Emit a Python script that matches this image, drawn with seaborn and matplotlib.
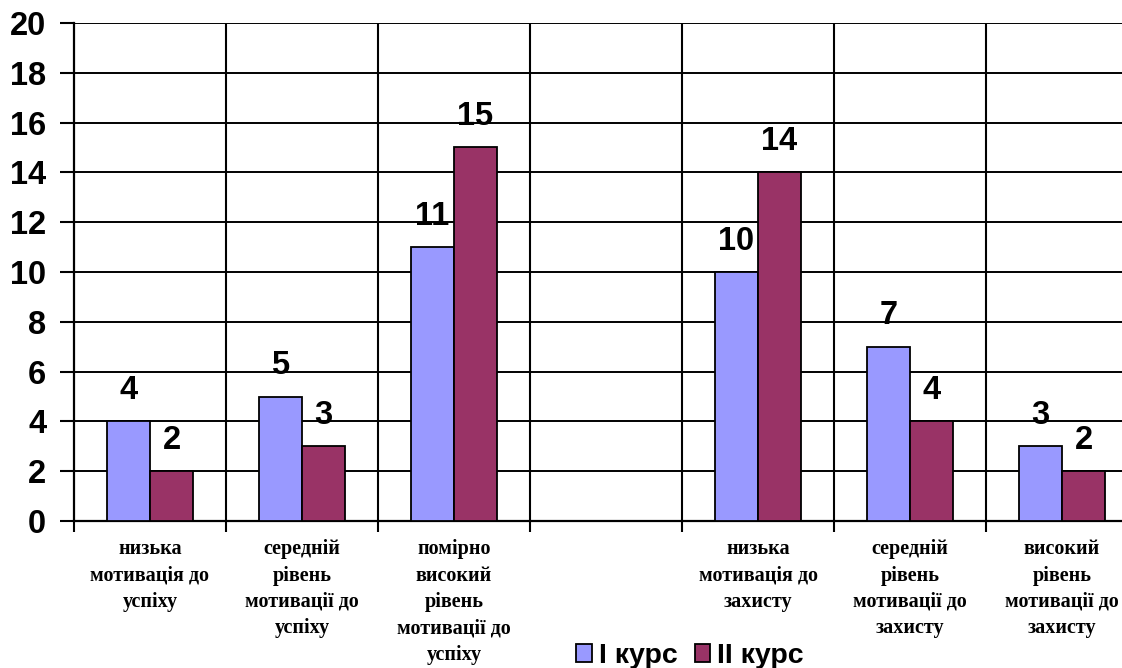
import numpy as np
import pandas as pd
import seaborn as sns
import matplotlib.pyplot as plt
from matplotlib.patches import Patch

categories = [
    "низька\nмотивація до\nуспіху",
    "середній\nрівень\nмотивації до\nуспіху",
    "помірно\nвисокий\nрівень\nмотивації до\nуспіху",
    " ",
    "низька\nмотивація до\nзахисту",
    "середній\nрівень\nмотивації до\nзахисту",
    "високий\nрівень\nмотивації до\nзахисту",
]
series = ["I курс", "II курс"]
course1 = [4, 5, 11, np.nan, 10, 7, 3]
course2 = [2, 3, 15, np.nan, 14, 4, 2]
colors = ["#9999FF", "#993366"]
y_ticks = list(range(0, 21, 2))

sns.set_style("white")
plt.rcParams["font.family"] = ["Liberation Sans", "DejaVu Sans"]
plt.rcParams["text.color"] = "black"
plt.rcParams["xtick.color"] = "black"
plt.rcParams["ytick.color"] = "black"

df = pd.DataFrame({
    "cat": categories * 2,
    "course": [series[0]] * len(categories) + [series[1]] * len(categories),
    "value": course1 + course2,
}).dropna()

fig = plt.figure(figsize=(11.22, 6.68), dpi=100)
ax = fig.add_axes([74 / 1122, 147 / 668, 1064 / 1122, 498 / 668])

sns.barplot(data=df, x="cat", y="value", hue="course", order=categories,
            hue_order=series, palette=colors, width=0.566, edgecolor="black",
            linewidth=1.3, saturation=1, legend=False, ax=ax, zorder=3)

for cont in ax.containers:
    ax.bar_label(cont, fmt="%g", padding=11, fontsize=23.5, fontweight="bold",
                 color="black")

ax.set_xlim(-0.5, 6.5)
ax.set_ylim(0, 20)
ax.set_yticks(y_ticks)
ax.set_yticklabels([str(t) for t in y_ticks], fontsize=23.5, fontweight="bold")
for y in y_ticks[1:]:
    ax.axhline(y, color="black", lw=1.4, zorder=1)
for x in np.arange(0.5, 6.5, 1):
    ax.axvline(x, color="black", lw=1.5, zorder=1)

ax.set_xticks(np.arange(-0.5, 7, 1), minor=False)
ax.set_xticklabels([])
ax.set_xticks(range(len(categories)), minor=True)
ax.set_xticklabels(categories, minor=True, family=["Liberation Serif"],
                   fontsize=14.5, fontweight="bold", linespacing=1.43,
                   va="top")
ax.tick_params(axis="x", which="minor", length=0, pad=13)
ax.tick_params(axis="x", which="major", length=8, width=1.5, color="black",
               direction="out", bottom=True)
ax.tick_params(axis="y", length=10, width=1.5, color="black", direction="out",
               left=True, pad=10)
ax.set_xlabel("")
ax.set_ylabel("")

for s in ["top", "right"]:
    ax.spines[s].set_visible(False)
for s in ["left", "bottom"]:
    ax.spines[s].set_color("black")
    ax.spines[s].set_linewidth(1.6)

handles = [Patch(facecolor=c, edgecolor="black", linewidth=1.3) for c in colors]
fig.legend(handles, series, loc="center", bbox_to_anchor=(690 / 1122, 1 - 656 / 668),
           ncol=2, frameon=False, handlelength=0.55, handleheight=0.55,
           handletextpad=0.25, columnspacing=0.6,
           prop={"size": 20.5, "weight": "bold"})

fig.savefig("out.png", dpi=100)
